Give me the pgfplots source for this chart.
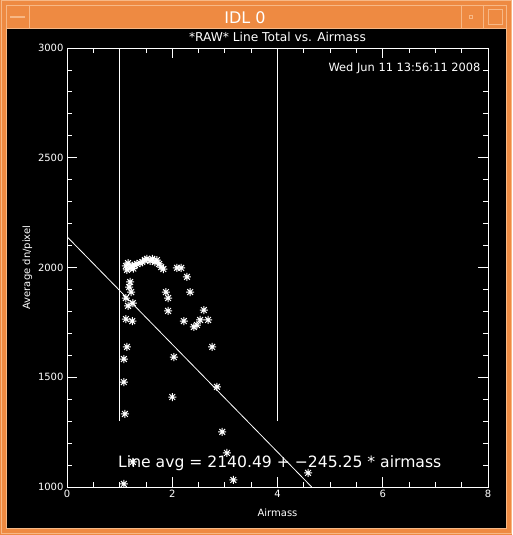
\documentclass[border=0pt]{standalone}
\usepackage{fontspec}
\setmainfont{DejaVu Sans}
\usepackage{pgfplots}
\pgfplotsset{compat=1.18}

\definecolor{idlorange}{HTML}{EE8A42}
\definecolor{idllight}{HTML}{F7B886}

% IDL psym=2 asterisk: four strokes
\pgfdeclareplotmark{idlstar}{%
  \pgfpathmoveto{\pgfqpoint{-\pgfplotmarksize}{0pt}}\pgfpathlineto{\pgfqpoint{\pgfplotmarksize}{0pt}}%
  \pgfpathmoveto{\pgfqpoint{0pt}{-\pgfplotmarksize}}\pgfpathlineto{\pgfqpoint{0pt}{\pgfplotmarksize}}%
  \pgfpathmoveto{\pgfqpoint{-.72\pgfplotmarksize}{-.72\pgfplotmarksize}}\pgfpathlineto{\pgfqpoint{.72\pgfplotmarksize}{.72\pgfplotmarksize}}%
  \pgfpathmoveto{\pgfqpoint{-.72\pgfplotmarksize}{.72\pgfplotmarksize}}\pgfpathlineto{\pgfqpoint{.72\pgfplotmarksize}{-.72\pgfplotmarksize}}%
  \pgfusepathqstroke}

\begin{document}
\begin{tikzpicture}
\useasboundingbox (0pt,0pt) rectangle (512pt,535pt);
% window frame (y measured from bottom of 512x535 window)
\fill[idlorange] (0pt,0pt) rectangle (512pt,535pt);
\draw[idllight,line width=1pt] (1pt,1pt) rectangle (511pt,534pt);
\draw[idllight,line width=1pt] (6pt,6pt) rectangle (506pt,529pt);
\draw[idllight,line width=1pt] (29pt,506pt) -- (29pt,529pt);
\draw[idllight,line width=1pt] (461pt,506pt) -- (461pt,529pt);
\draw[idllight,line width=1pt] (483pt,506pt) -- (483pt,529pt);
\draw[idllight,line width=1pt] (6pt,506pt) -- (506pt,506pt);
\fill[black] (7pt,7pt) rectangle (506pt,506pt);
\draw[idllight,line width=1.2pt] (10pt,518pt) -- (25pt,518pt);
\draw[idllight,line width=1pt] (469pt,516pt) rectangle (472pt,519pt);
\draw[idllight,line width=1pt] (488pt,510pt) rectangle (502pt,525pt);
\node[white,font=\fontsize{16}{16}\selectfont] at (245pt,517pt) {IDL 0};

\begin{axis}[
    at={(67pt,48pt)}, anchor=south west,
    scale only axis,
    width=421pt, height=439pt,
    xmin=0, xmax=8,
    ymin=1000, ymax=3000,
    xtick={0,2,...,8}, minor x tick num=3,
    ytick={1000,1500,...,3000}, minor y tick num=4,
    tick align=inside, tick pos=both,
    major tick length=10pt, minor tick length=5pt,
    axis line style={white,line width=0.8pt},
    every tick/.style={white,line width=0.8pt},
    every minor tick/.style={white,line width=0.8pt},
    ticklabel style={white,font=\fontsize{10}{10}\selectfont},
    /pgf/number format/1000 sep={},
    /pgf/number format/assume math mode=true,
    title={*RAW* Line Total vs. Airmass},
    title style={white,font=\fontsize{12.2}{12}\selectfont,at={(0.5,1)},anchor=south,yshift=-3pt},
    xlabel={Airmass},
    ylabel={Average dn/pixel},
    label style={white,font=\fontsize{10}{10}\selectfont},
    xlabel style={yshift=-4pt},
    ylabel style={yshift=-1pt},
    clip mode=individual,
]
% boundary lines
\addplot[white,line width=0.8pt] coordinates {(1,1300)(1,3000)};
\addplot[white,line width=0.8pt] coordinates {(4,1300)(4,3000)};
% linear fit
\addplot[white,line width=0.8pt] coordinates {(0,2140.49)(4.650,1000)};
% raw line totals
\addplot[only marks,mark=idlstar,mark size=4pt,white,line width=1pt] coordinates {
(1.16,2020)(1.14,1989)(1.20,1998)(1.29,2011)(1.39,2020)(1.48,2034)(1.58,2030)
(1.67,2025)(1.75,2016)(1.83,1993)(2.09,1998)(2.17,1998)(2.28,1957)
(1.43,2025)(1.52,2039)(1.62,2039)(1.71,2034)(1.33,2016)(1.24,2007)
(1.12,2007)(1.79,2002)(1.26,1995)
(1.20,1934)(1.18,1911)(1.22,1888)(1.12,1861)(1.25,1838)(1.16,1825)
(1.88,1888)(1.92,1861)(2.34,1888)(1.92,1802)(2.60,1806)
(1.12,1765)(1.24,1756)(2.22,1756)(2.53,1761)(2.68,1761)(2.41,1729)(2.47,1738)
(1.14,1638)(2.76,1638)(1.08,1583)(2.03,1592)(1.08,1478)(2.85,1456)
(2.00,1410)(1.10,1333)(2.95,1251)(3.04,1155)(1.25,1114)(4.58,1064)
(3.16,1032)(1.08,1014)
};
\node[white,anchor=east,font=\fontsize{11.4}{12}\selectfont] at (rel axis cs:1,0.954) [xshift=-4pt] {Wed Jun 11 13:56:11 2008};
\node[white,anchor=west,inner sep=0pt,font=\fontsize{15.6}{16}\selectfont] at (axis cs:0.97,1109) {Line avg = 2140.49 + −245.25 * airmass};
\end{axis}
\end{tikzpicture}
\end{document}
